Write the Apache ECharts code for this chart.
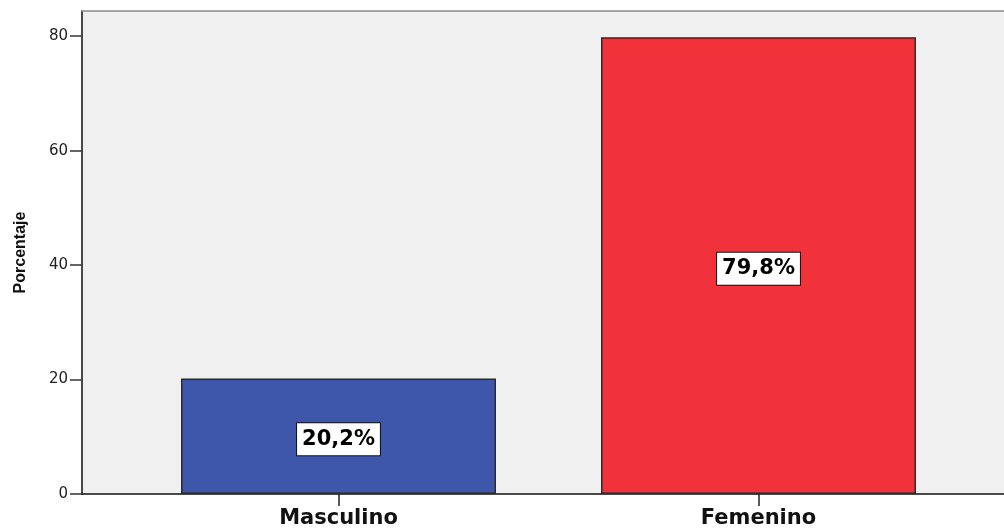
<!DOCTYPE html>
<html>
<head>
<meta charset="utf-8">
<script src="https://cdn.jsdelivr.net/npm/echarts@6/dist/echarts.min.js"></script>
<style>
html,body{margin:0;padding:0;background:#fff;}
#chart{width:1004px;height:531px;}
</style>
</head>
<body>
<div id="chart"></div>
<script>
// Data
var categories = ['Masculino', 'Femenino'];
var values = [20.2, 79.8];
var valueLabels = ['20,2%', '79,8%'];
var yTicks = [0, 20, 40, 60, 80];
var yName = 'Porcentaje';

var barColors = ['#3E57AA', '#F1323B'];

var chart = echarts.init(document.getElementById('chart'), null, {renderer: 'canvas'});

var seriesData = values.map(function (v, i) {
  return {
    value: [i, v],
    itemStyle: {color: barColors[i]},
    label: {formatter: valueLabels[i]}
  };
});

var xMin = -0.6107, xMax = 1.5845;

var option = {
  animation: false,
  backgroundColor: '#ffffff',
  grid: {
    left: 82, top: 11, right: 0, bottom: 37,
    show: true,
    backgroundColor: '#F0F0F0',
    borderWidth: 0
  },
  xAxis: [{
    type: 'value',
    min: xMin,
    max: xMax,
    splitLine: {show: false},
    axisLine: {show: true, onZero: false, lineStyle: {color: '#111', width: 1.5}},
    axisTick: {show: true, customValues: [0, 1], length: 12, lineStyle: {color: '#222', width: 1.5}},
    axisLabel: {
      customValues: [0, 1],
      margin: 14,
      formatter: function (v) { return categories[Math.round(v)] || ''; },
      fontFamily: 'DejaVu Sans',
      fontWeight: 'bold',
      fontSize: 21,
      color: '#111'
    }
  }, {
    type: 'value',
    position: 'top',
    min: xMin,
    max: xMax,
    splitLine: {show: false},
    axisLine: {show: true, onZero: false, lineStyle: {color: '#8c8c8c', width: 1.5}},
    axisTick: {show: false},
    axisLabel: {show: false}
  }],
  yAxis: {
    type: 'value',
    min: 0,
    max: 84.4,
    name: yName,
    nameLocation: 'middle',
    nameRotate: 90,
    nameGap: 53,
    nameTextStyle: {
      fontFamily: 'Liberation Sans',
      fontWeight: 'bold',
      fontSize: 16,
      color: '#111'
    },
    splitLine: {show: false},
    axisLine: {show: true, onZero: false, lineStyle: {color: '#111', width: 1.5}},
    axisTick: {show: true, customValues: yTicks, length: 12, lineStyle: {color: '#333', width: 1.5}},
    axisLabel: {
      customValues: yTicks,
      margin: 14,
      fontFamily: 'DejaVu Sans',
      fontSize: 15,
      color: '#222'
    }
  },
  series: [{
    type: 'bar',
    barWidth: 315,
    data: seriesData,
    itemStyle: {borderColor: '#2a2a2a', borderWidth: 1.5},
    label: {
      show: true,
      position: 'inside',
      offset: [0, 3],
      fontFamily: 'DejaVu Sans',
      fontWeight: 'bold',
      fontSize: 21,
      color: '#000',
      backgroundColor: '#ffffff',
      borderColor: '#111',
      borderWidth: 1,
      padding: [6, 5, 5, 5]
    }
  }]
};

chart.setOption(option);
</script>
</body>
</html>
